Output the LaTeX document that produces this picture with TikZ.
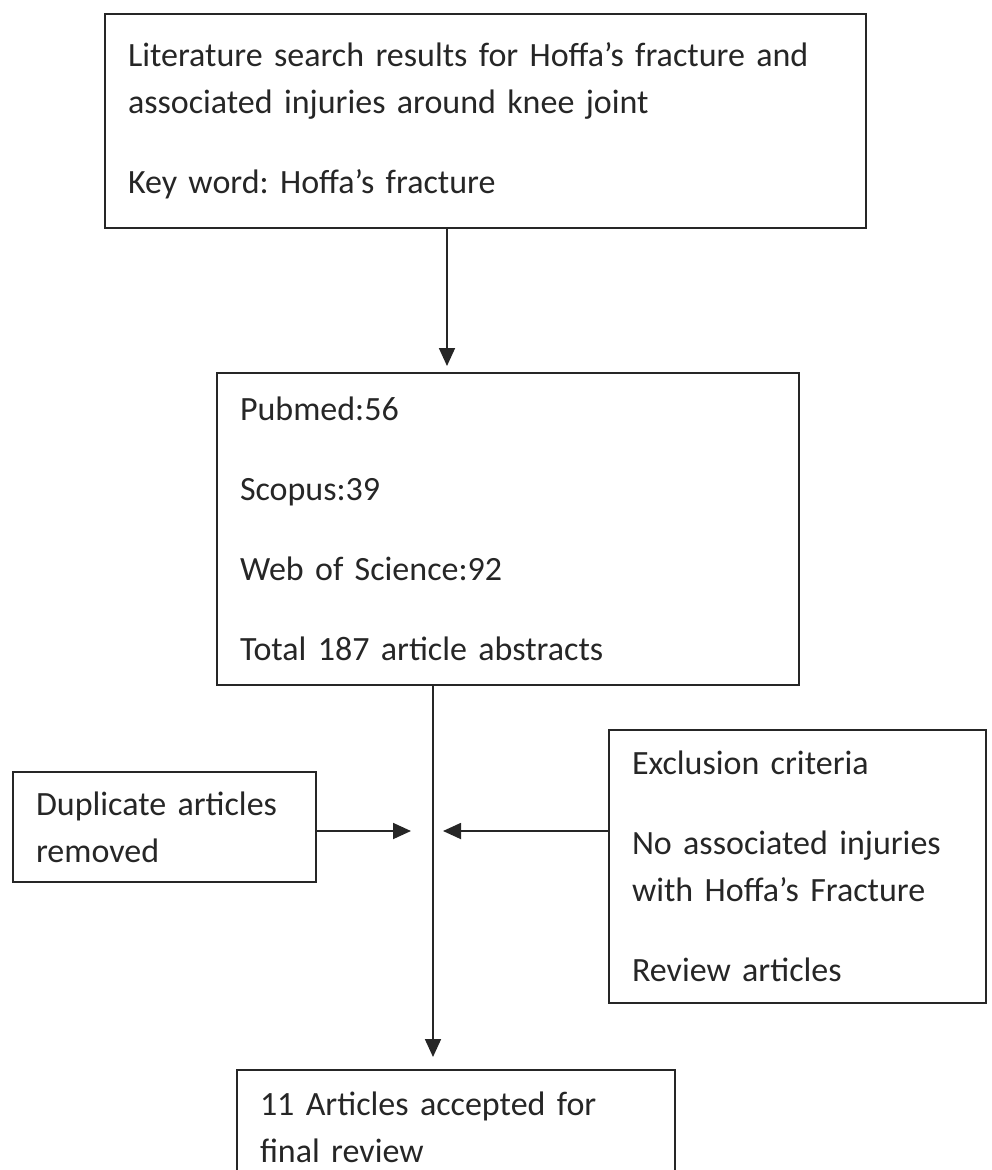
\documentclass[tikz,border=0pt]{standalone}
\usepackage{fontspec}
\setmainfont{Carlito}
\usepackage{tikz}
\usetikzlibrary{arrows.meta, calc, positioning}
\frenchspacing
\def\gap{\\[33pt]}
\tikzset{
  box/.style={draw=black!85, line width=2pt, align=left, inner xsep=23pt, inner ysep=0pt,
    text=black!85, font=\fontsize{34}{47}\selectfont},
  arr/.style={draw=black!85, line width=1.8pt, -{Triangle[length=18pt,width=16pt]}},
}

\begin{document}
\begin{tikzpicture}[x=1pt,y=-1pt]
\useasboundingbox (0,0) rectangle (992,1170);
% boxes
\node[box, text width=715pt, minimum height=214pt] (search) at (485.5,121)
  {Literature search results for Hoffa’s fracture and\\associated injuries around knee joint\gap Key word: Hoffa’s fracture};
\node[box, text width=536pt, minimum height=312pt] (sources) at (508,529)
  {Pubmed:56\gap Scopus:39\gap Web of Science:92\gap Total 187 article abstracts};
\node[box, text width=257pt, minimum height=110pt] (dup) at (164.5,827)
  {Duplicate articles\\removed};
\node[box, text width=331pt, minimum height=273pt] (excl) at (797.5,866.5)
  {Exclusion criteria\gap No associated injuries\\with Hoffa’s Fracture\gap Review articles};
\node[box, text width=392pt, minimum height=115pt] (final) at (456,1127.5)
  {11 Articles accepted for\\final review};

% connectors
\coordinate (topx) at (447,0);
\coordinate (jn) at (433,831);
\draw[arr, shorten >=6pt] (search.south -| topx) -- (sources.north -| topx);
\draw[arr, shorten >=12pt] (sources.south -| jn) -- (final.north -| jn);
\draw[arr] (dup.east |- jn) -- ([xshift=-22pt]jn);
\draw[arr] (excl.west |- jn) -- ([xshift=10pt]jn);
\end{tikzpicture}
\end{document}
